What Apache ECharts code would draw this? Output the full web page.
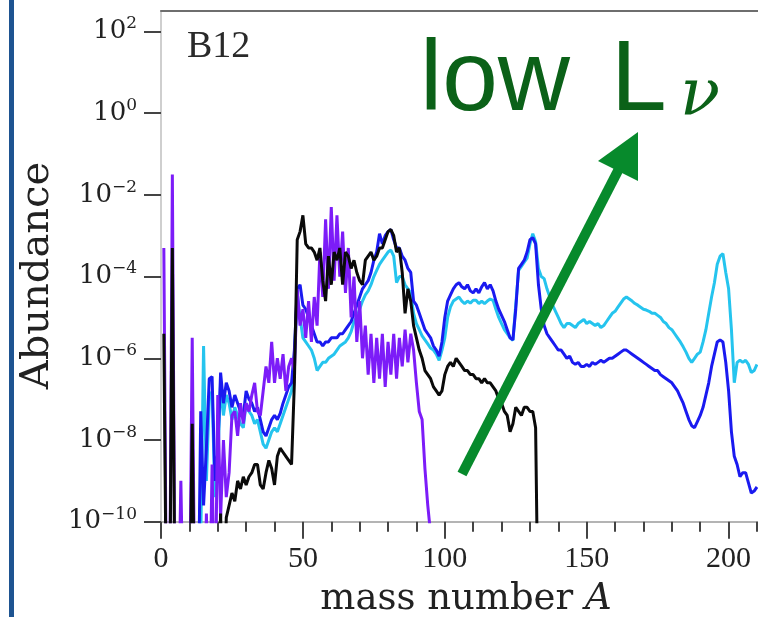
<!DOCTYPE html>
<html>
<head>
<meta charset="utf-8">
<title>B12 abundances</title>
<script src="https://cdn.jsdelivr.net/npm/echarts@6/dist/echarts.min.js"></script>
<style>
  html, body { margin: 0; padding: 0; background: #fff; }
  #chart { width: 758px; height: 617px; }
</style>
</head>
<body>
<div id="chart"></div>
<script>
// log10(abundance) by mass number, first entry is A = 1; -13 = below the plot
var purpleLog = [
  -3.3, -13, -13, -1.5, -13, -13, -9.0, -13, -13, -13,
  -5.5, -13, -13, -13, -13, -9.8, -13, -8.6, -13, -6.9,
  -9.9, -8.0, -9.4, -8.8, -7.4, -7.3, -7.9, -7.1, -7.6, -7.1,
  -7.3, -6.9, -6.6, -7.3, -7.4, -6.8, -6.2, -6.6, -5.6, -6.6,
  -6.0, -6.5, -5.9, -6.8, -6.2, -6.0, -6.3, -4.3, -5.2, -4.8,
  -5.5, -4.6, -5.6, -4.5, -5.2, -3.4, -4.5, -2.6, -4.3, -2.3,
  -4.1, -2.5, -4.0, -2.9, -4.4, -3.3, -5.0, -4.0, -5.6, -4.6,
  -6.0, -5.2, -6.4, -5.4, -6.6, -5.5, -6.5, -5.4, -6.7, -5.6,
  -6.4, -5.4, -6.5, -5.5, -6.2, -5.3, -6.1, -5.4, -5.8, -6.6,
  -7.3, -7.5, -8.7, -9.6, -10.3
];
var blackLog = [
  -5.4, -13, -13, -3.3, -13, -13, -13, -13, -13, -13,
  -7.6, -13, -13, -13, -13, -13, -13, -13, -13, -13,
  -9.8, -13, -9.9, -9.6, -9.3, -9.5, -9.0, -9.2, -8.9, -9.1,
  -8.9, -8.8, -8.6, -8.6, -9.1, -9.2, -8.8, -8.5, -8.7, -9.1,
  -8.4, -8.2, -8.3, -8.4, -8.5, -8.6, -6.6, -3.1, -2.9, -2.5,
  -3.2, -3.3, -3.3, -3.4, -3.6, -3.3, -4.1, -4.6, -3.5, -4.2,
  -3.4, -3.6, -3.3, -4.2, -3.4, -3.5, -3.8, -3.6, -3.9, -4.1,
  -4.2, -3.6, -3.5, -3.4, -3.6, -3.5, -3.3, -3.3, -3.1, -2.9,
  -2.85, -3.0, -3.4, -3.3, -3.9, -4.9, -4.3, -4.6, -5.2, -5.5,
  -5.8, -6.0, -6.3, -6.4, -6.5, -6.7, -6.8, -6.9, -6.8, -6.4,
  -6.2, -6.1, -6.2, -6.0, -6.1, -6.2, -6.3, -6.3, -6.4, -6.4,
  -6.5, -6.5, -6.6, -6.5, -6.6, -6.6, -6.7, -6.8, -7.0, -7.1,
  -7.3, -7.4, -7.8, -7.6, -7.2, -7.3, -7.4, -7.2, -7.2, -7.3,
  -7.3, -7.7, -13
];
var blueLog = [
  -13, -13, -13, -13, -13, -13, -13, -13, -13, -13,
  -13, -13, -13, -7.3, -9.6, -8.2, -6.5, -6.45, -9.0, -8.3,
  -6.35, -7.1, -6.6, -6.8, -7.2, -6.9, -7.1, -7.3, -7.4, -6.8,
  -7.0, -7.1, -7.3, -7.2, -7.5, -7.8, -7.9, -7.7, -7.5, -7.4,
  -7.5, -7.35, -7.1, -6.9, -6.7, -6.6, -5.8, -4.3, -4.2, -4.7,
  -4.8, -5.0, -5.2, -5.4, -5.6, -5.6, -5.7, -5.6, -5.6, -5.5,
  -5.5, -5.5, -5.4, -5.4, -5.3, -5.2, -5.1, -4.9, -4.7, -4.5,
  -4.3, -4.2, -4.1, -3.9, -3.6, -3.4, -2.95, -3.2, -3.0, -2.9,
  -2.85, -3.1, -3.3, -3.3, -3.5, -3.6, -3.8, -3.9, -4.6, -4.7,
  -4.9, -5.1, -5.3, -5.4, -5.5, -5.7, -5.8, -5.95, -5.6, -5.0,
  -4.6, -4.45, -4.3, -4.2, -4.15, -4.25, -4.3, -4.2, -4.35, -4.4,
  -4.3, -4.4, -4.25, -4.15, -4.3, -4.2, -4.35, -4.6, -4.8, -4.95,
  -5.1, -5.3, -5.5, -5.55, -4.8, -3.8, -3.7, -3.6, -3.4, -3.1,
  -3.05, -3.2, -4.2, -4.8, -5.2, -5.4, -5.5, -5.6, -5.7, -5.8,
  -5.8, -5.9, -6.0, -5.95, -6.1, -6.15, -6.1, -6.2, -6.2, -6.15,
  -6.2, -6.1, -6.15, -6.1, -6.05, -6.1, -6.05, -6.0, -6.0, -5.95,
  -5.9, -5.85, -5.8, -5.8, -5.85, -5.9, -5.95, -6.0, -6.05, -6.1,
  -6.15, -6.2, -6.25, -6.3, -6.3, -6.4, -6.45, -6.5, -6.55, -6.6,
  -6.7, -6.8, -6.95, -7.1, -7.3, -7.5, -7.65, -7.7, -7.55, -7.4,
  -7.2, -6.9, -6.6, -6.2, -5.9, -5.6, -5.55, -5.6, -6.1, -6.8,
  -7.8, -8.4, -8.6, -8.9, -8.8, -8.8, -9.05, -9.3, -9.25, -9.15
];
var cyanLog = [
  -13, -13, -13, -13, -13, -13, -13, -13, -13, -13,
  -13, -13, -13, -10.5, -5.7, -9.0, -7.0, -6.8, -9.4, -8.6,
  -6.6, -7.4, -6.9, -7.1, -7.5, -7.2, -7.4, -7.6, -7.7, -7.1,
  -7.3, -7.4, -7.6, -7.5, -7.8, -8.1, -8.2, -8.0, -7.8, -7.7,
  -7.8, -7.6, -7.4, -7.2, -7.0, -6.8, -6.0, -4.4, -5.0, -5.5,
  -5.6, -5.7, -5.8, -6.0, -6.3, -6.2, -6.1, -6.1, -6.0, -5.95,
  -5.9, -5.8, -5.7, -5.65, -5.6, -5.5, -5.35, -5.1, -5.0, -4.8,
  -4.6, -4.45, -4.35, -4.2, -4.0, -3.85, -3.7, -3.6, -3.5, -3.4,
  -3.35, -3.5, -4.15, -4.0, -4.0, -4.2, -4.3, -4.4, -4.9, -5.15,
  -5.3, -5.45, -5.55, -5.65, -5.75, -5.8, -5.9, -6.05, -5.8, -5.5,
  -5.0, -4.74, -4.6, -4.55, -4.5, -4.6, -4.66, -4.6, -4.65, -4.58,
  -4.58, -4.66, -4.6, -4.66, -4.6, -4.55, -4.58, -4.8, -5.0, -5.15,
  -5.3, -5.4, -5.5, -5.56, -4.7, -3.85, -3.75, -3.65, -3.55, -3.2,
  -2.95, -3.15, -3.8, -4.0, -4.05, -4.3, -4.5, -4.7, -4.85, -5.0,
  -5.15, -5.25, -5.15, -5.15, -5.2, -5.25, -5.15, -5.1, -5.05, -5.15,
  -5.1, -5.15, -5.2, -5.15, -5.25, -5.2, -5.1, -5.0, -4.9, -4.85,
  -4.75, -4.65, -4.55, -4.5, -4.55, -4.6, -4.66, -4.7, -4.75, -4.8,
  -4.82, -4.85, -4.9, -4.9, -4.95, -5.0, -5.1, -5.15, -5.25, -5.3,
  -5.4, -5.5, -5.6, -5.72, -5.85, -6.0, -6.1, -6.0, -5.9, -5.85,
  -5.6, -5.3, -4.9, -4.5, -4.15, -3.7, -3.5, -3.44, -3.9, -4.3,
  -5.3, -6.6, -6.1, -6.05, -6.1, -6.05, -6.15, -6.35, -6.3, -6.15
];
var yTicks = [-10, -8, -6, -4, -2, 0, 2];

document.addEventListener("DOMContentLoaded", function () {
    var chartDom = document.getElementById('chart');
    var myChart = echarts.init(chartDom);

    function toPoints(logs) {
        return logs.map(function (v, i) { return [i + 1, v]; });
    }
    function lineSeries(name, color, logs) {
        return {
            name: name,
            type: 'line',
            data: toPoints(logs),
            symbol: 'none',
            showSymbol: false,
            clip: true,
            lineStyle: { color: color, width: 3 },
            itemStyle: { color: color }
        };
    }

    var serif = '"DejaVu Serif", serif';
    var textColor = '#222';
    var green = '#0b6118';
    var arrowGreen = '#078a2c';

    var option = {
        animation: false,
        grid: { left: 161, top: 11, bottom: 95.3, right: -112.5, outerBoundsMode: 'none' },
        xAxis: [
            {
                type: 'value',
                min: 0,
                max: 250,
                interval: 50,
                axisLine: { show: true, onZero: false, lineStyle: { color: '#b4b4b4', width: 2 } },
                axisTick: { show: true, length: 17, lineStyle: { color: '#444', width: 2 } },
                minorTick: { show: true, splitNumber: 5, length: 10, lineStyle: { color: '#444', width: 2 } },
                axisLabel: { margin: 22, fontFamily: '"Liberation Serif", serif', fontSize: 30, color: textColor },
                splitLine: { show: false },
                minorSplitLine: { show: false }
            },
            {
                type: 'value',
                position: 'top',
                min: 0,
                max: 250,
                axisLine: { show: true, onZero: false, lineStyle: { color: '#6e6e6e', width: 2 } },
                axisTick: { show: false },
                axisLabel: { show: false },
                splitLine: { show: false }
            }
        ],
        yAxis: {
            type: 'value',
            min: -10,
            max: 2.5,
            interval: 2,
            axisLine: { show: true, onZero: false, lineStyle: { color: '#cfcfcf', width: 2 } },
            axisTick: { show: true, customValues: yTicks, length: 17, lineStyle: { color: '#444', width: 2 } },
            axisLabel: {
                customValues: yTicks,
                margin: 24,
                formatter: function (v) {
                    var e = v < 0 ? '\u2212' + (-v) : '' + v;
                    return '{b|10}{s|' + e + '}';
                },
                rich: {
                    b: { fontFamily: serif, fontSize: 26, lineHeight: 32, color: textColor },
                    s: { fontFamily: serif, fontSize: 17, lineHeight: 17, verticalAlign: 'top', color: textColor }
                }
            },
            splitLine: { show: false }
        },
        series: [
            lineSeries('cyan', '#25c4ee', cyanLog),
            lineSeries('blue', '#1a1af0', blueLog),
            lineSeries('purple', '#7c1cf8', purpleLog),
            lineSeries('black', '#0a0a0a', blackLog)
        ],
        graphic: [
            { type: 'rect', z: 100, shape: { x: 9, y: 0, width: 5, height: 617 }, style: { fill: '#1e5491' } },
            {
                type: 'text', z: 100, x: 38, y: 275.5, rotation: Math.PI / 2,
                style: { text: 'Abundance', font: '40px "DejaVu Serif"', fill: textColor,
                         align: 'center', verticalAlign: 'middle' }
            },
            {
                type: 'text', z: 100,
                style: {
                    text: '{a|mass number }{i|A}', x: 466, y: 599,
                    align: 'center', verticalAlign: 'middle', fill: textColor,
                    rich: {
                        a: { fontFamily: serif, fontSize: 37, color: textColor },
                        i: { fontFamily: serif, fontSize: 37, fontStyle: 'italic', color: textColor }
                    }
                }
            },
            {
                type: 'text', z: 100,
                style: { text: 'B12', x: 187, y: 47, font: '38px "Liberation Serif"', fill: '#2a2a2a',
                         align: 'left', verticalAlign: 'middle' }
            },
            {
                type: 'text', z: 100,
                style: { text: 'low', x: 420, y: 82, font: '100px "Liberation Sans"', fill: green,
                         align: 'left', verticalAlign: 'middle' }
            },
            {
                type: 'text', z: 100,
                style: { text: 'L', x: 611, y: 82, font: '100px "Liberation Sans"', fill: green,
                         align: 'left', verticalAlign: 'middle' }
            },
            {
                type: 'text', z: 100,
                style: { text: '\u03bd', x: 680, y: 98, font: 'italic 66px "DejaVu Serif"', fill: green,
                         align: 'left', verticalAlign: 'middle' }
            },
            {
                type: 'line', z: 100,
                shape: { x1: 462, y1: 474, x2: 624, y2: 159 },
                style: { stroke: arrowGreen, lineWidth: 10 }
            },
            {
                type: 'polygon', z: 100,
                shape: { points: [[638, 132], [598, 161], [638, 181]] },
                style: { fill: arrowGreen }
            }
        ]
    };

    myChart.setOption(option);
});
</script>
</body>
</html>
